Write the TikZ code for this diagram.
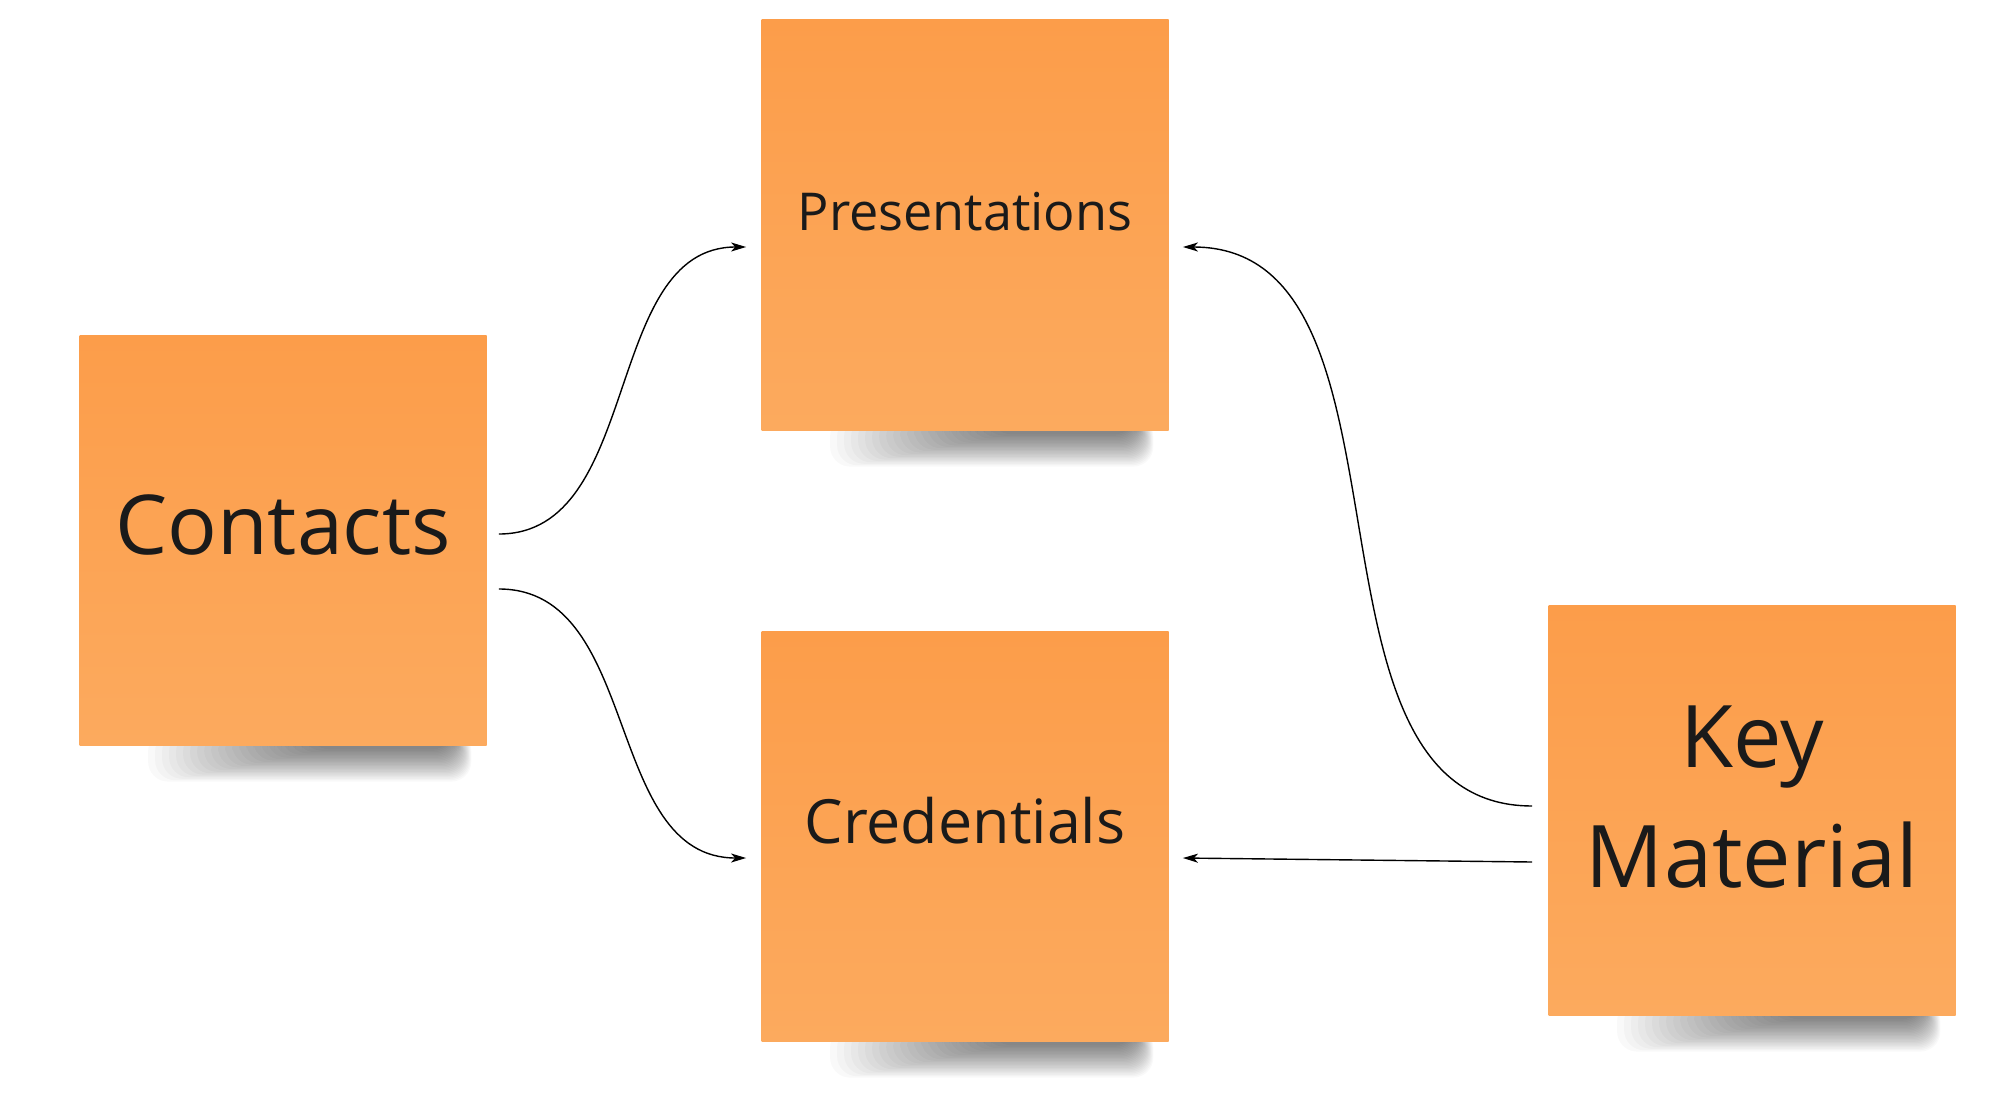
\documentclass[tikz,border=0pt]{standalone}
\usepackage{fontspec}
\setmainfont{Open Sans}
\usetikzlibrary{arrows.meta,calc,backgrounds}
\definecolor{noteTop}{RGB}{252,157,74}
\definecolor{noteBot}{RGB}{252,170,94}
\definecolor{ink}{RGB}{26,26,26}
\tikzset{
  note/.style={minimum width=203.5pt, minimum height=205pt, inner sep=0pt,
    top color=noteTop, bottom color=noteBot, draw=none},
  txt/.style={text=ink, align=center, inner sep=0pt},
  conn/.style={draw=black, line width=0.7pt, -{Stealth[length=7.5pt,width=4.5pt,inset=2pt]}},
  shadowlayer/.style={fill=black, opacity=0.022, rounded corners=10pt},
}
\newcommand\mynoteshadow[1]{%
  \foreach \i in {0,...,23}{%
    \path[shadowlayer] ($(#1.south west)+(230-7*\i,-14)$) rectangle ($(#1.south east)+(-34+0.8*\i,4+1.4*\i)$);
  }%
}
\begin{document}
\begin{tikzpicture}[x=0.5pt,y=-0.5pt]
\useasboundingbox (0,0) rectangle (2000,1107);

\node[note] (contacts) at (283,540) {};
\node[note] (pres) at (965,225) {};
\node[note] (cred) at (965,836) {};
\node[note] (key) at (1752,810) {};

\begin{pgfonlayer}{background}
  \fill[white] (0,0) rectangle (2000,1107);
  \mynoteshadow{contacts}
  \mynoteshadow{pres}
  \mynoteshadow{cred}
  \mynoteshadow{key}
\end{pgfonlayer}

\node[txt, font=\fontsize{41.3}{48}\selectfont] (contactsT) at ($(contacts.center)+(0,-15)$) {Contacts};
\node[txt, font=\fontsize{26.1}{30}\selectfont] (presT) at ($(pres.center)+(0,-13)$) {Presentations};
\node[txt, font=\fontsize{30.5}{36}\selectfont] (credT) at ($(cred.center)+(0,-15)$) {Credentials};
\node[txt, font=\fontsize{43.2}{60}\selectfont] (keyT) at ($(key.center)+(0,-13)$) {Key\\Material};

\coordinate (c1) at ($(contacts.east)+(12,-6)$);
\coordinate (c2) at ($(contacts.east)+(12,49)$);
\coordinate (p1) at ($(pres.west)+(-15,22)$);
\coordinate (r1) at ($(cred.west)+(-15,22)$);
\coordinate (k1) at ($(key.west)+(-16,-4)$);
\coordinate (k2) at ($(key.west)+(-16,52)$);
\coordinate (p2) at ($(pres.east)+(14,22)$);
\coordinate (r2) at ($(cred.east)+(14,22)$);

\draw[conn] (c1) .. controls +(144,0) and +(-144,0) .. (p1);
\draw[conn] (c2) .. controls +(143,0) and +(-143,0) .. (r1);
\draw[conn] (k1) .. controls +(-250,0) and +(250,0) .. (p2);
\draw[conn] (k2) -- (r2);
\end{tikzpicture}
\end{document}
